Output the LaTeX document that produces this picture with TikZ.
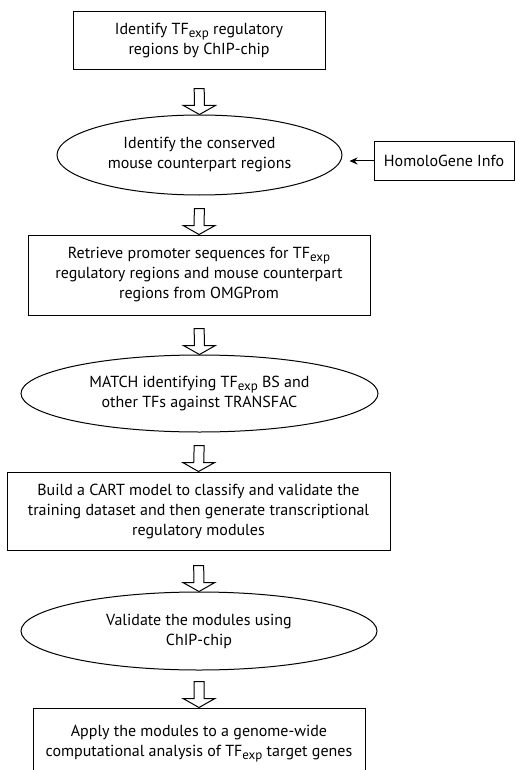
\documentclass[tikz,border=0pt]{standalone}
\usepackage{fontspec}
\setmainfont{PT Sans}
\usetikzlibrary{shapes.geometric,calc,arrows.meta}

\newcommand{\TFexp}{TF\raisebox{-0.35ex}{\fontsize{13}{13}\selectfont exp}}
% hollow down arrow sitting on top of node #2, pointing from #1
\newcommand{\blockarrow}[2]{%
  \coordinate (hb) at ($(#2.north)!9pt!(#1.south)$);
  \coordinate (tp) at ($(#2.north)!26pt!(#1.south)$);
  \draw[hollow] (#2.north) -- ($(hb)+(16,0)$) -- ($(hb)+(5,0)$)
    -- ($(tp)+(5,0)$) -- ($(tp)+(-5,0)$) -- ($(hb)+(-5,0)$)
    -- ($(hb)+(-16,0)$) -- cycle;}

\begin{document}
\begin{tikzpicture}[x=1pt,y=-1pt,
    font=\fontsize{16}{20}\selectfont,
    box/.style={draw,line width=1pt,align=center,inner sep=0pt},
    oval/.style={draw,ellipse,line width=1pt,align=center,inner sep=0pt},
    hollow/.style={draw,line width=1pt,fill=white,line join=miter},
    >={Stealth[length=8pt,width=7pt]}
]
\useasboundingbox (0,0) rectangle (515,770);

\node[box,minimum width=252,minimum height=58] (ident) at (199,41)
  {Identify \TFexp{} regulatory\\regions by ChIP-chip};
\node[oval,minimum width=285,minimum height=80] (conserved) at (199.5,155)
  {Identify the conserved\\mouse counterpart regions};
\node[box,minimum width=140,minimum height=39] (homolo) at (444,161)
  {HomoloGene Info};
\node[box,minimum width=342,minimum height=80] (retrieve) at (199,275)
  {Retrieve promoter sequences for \TFexp\\regulatory regions and mouse counterpart\\regions from OMGProm};
\node[oval,minimum width=357,minimum height=77] (match) at (199.5,393.5)
  {MATCH identifying \TFexp{} BS and\\other TFs against TRANSFAC};
\node[box,minimum width=383,minimum height=78] (cart) at (198.5,511)
  {Build a CART model to classify and validate the\\training dataset and then generate transcriptional\\regulatory modules};
\node[oval,minimum width=356,minimum height=78] (validate) at (199,631)
  {Validate the modules using\\ChIP-chip};
\node[box,minimum width=332,minimum height=72] (apply) at (199,744)
  {Apply the modules to a genome-wide\\computational analysis of \TFexp{} target genes};

\blockarrow{ident}{conserved}
\blockarrow{conserved}{retrieve}
\blockarrow{retrieve}{match}
\blockarrow{match}{cart}
\blockarrow{cart}{validate}
\blockarrow{validate}{apply}

\draw[->,line width=1pt,shorten >=7pt] (homolo.west) -- (homolo.west -| conserved.east);
\end{tikzpicture}
\end{document}
